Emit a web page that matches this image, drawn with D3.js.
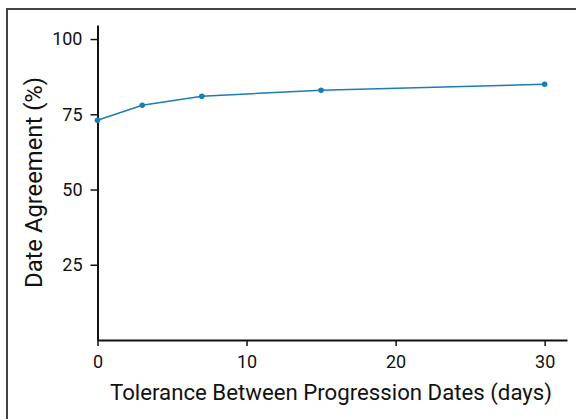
<!DOCTYPE html>
<html><head><meta charset="utf-8">
<script src="https://cdn.jsdelivr.net/npm/d3@7"></script>
<style>html,body{margin:0;padding:0;background:#fff;}svg{display:block;}</style>
</head><body>
<svg id="chart" width="576" height="419"></svg>
<script>
const tolerance = [0, 3, 7, 15, 30];
const agreement = [73, 78, 81, 83, 85];
const xTicks = [0, 10, 20, 30];
const yTicks = [25, 50, 75, 100];
const xLabel = "Tolerance Between Progression Dates (days)";
const yLabel = "Date Agreement (%)";

const svg = d3.select("#chart");
const font = "Roboto, 'Liberation Sans', sans-serif";

svg.append("rect").attr("x", 7).attr("y", 9).attr("width", 600).attr("height", 430)
  .attr("fill", "none").attr("stroke", "#444").attr("stroke-width", 2);

const x = d3.scaleLinear().domain([0, 31.5]).range([97.5, 567]);
const y = d3.scaleLinear().domain([0, 104.67]).range([340, 25]);

const xAxis = svg.append("g").attr("transform", "translate(0,340)")
  .call(d3.axisBottom(x).tickValues(xTicks).tickSize(6).tickSizeOuter(0).tickPadding(9));
const yAxis = svg.append("g").attr("transform", "translate(97.5,0)")
  .call(d3.axisLeft(y).tickValues(yTicks).tickSize(7).tickSizeOuter(0).tickPadding(8));
[xAxis, yAxis].forEach(g => {
  g.select(".domain").attr("stroke", "#111").attr("stroke-width", 2);
  g.selectAll(".tick line").attr("stroke", "#111").attr("stroke-width", 1.5);
  g.selectAll(".tick text").attr("fill", "#111")
    .style("font-family", font).style("font-size", "18px");
});

const line = d3.line().x((d, i) => x(tolerance[i])).y(d => y(d));
svg.append("path").datum(agreement).attr("d", line)
  .attr("fill", "none").attr("stroke", "#1a7db4").attr("stroke-width", 1.5);
svg.selectAll("circle.pt").data(agreement).join("circle").attr("class", "pt")
  .attr("cx", (d, i) => x(tolerance[i])).attr("cy", d => y(d)).attr("r", 2.8)
  .attr("fill", "#1a7db4");

svg.append("text").attr("x", 331).attr("y", 400).attr("text-anchor", "middle")
  .attr("font-family", font).attr("font-size", 22).attr("fill", "#111")
  .attr("textLength", 442).attr("lengthAdjust", "spacingAndGlyphs").text(xLabel);
svg.append("text").attr("transform", "translate(42,182.5) rotate(-90)").attr("text-anchor", "middle")
  .attr("font-family", font).attr("font-size", 23.5).attr("fill", "#111")
  .attr("textLength", 211).attr("lengthAdjust", "spacingAndGlyphs").text(yLabel);
</script>
</body></html>
